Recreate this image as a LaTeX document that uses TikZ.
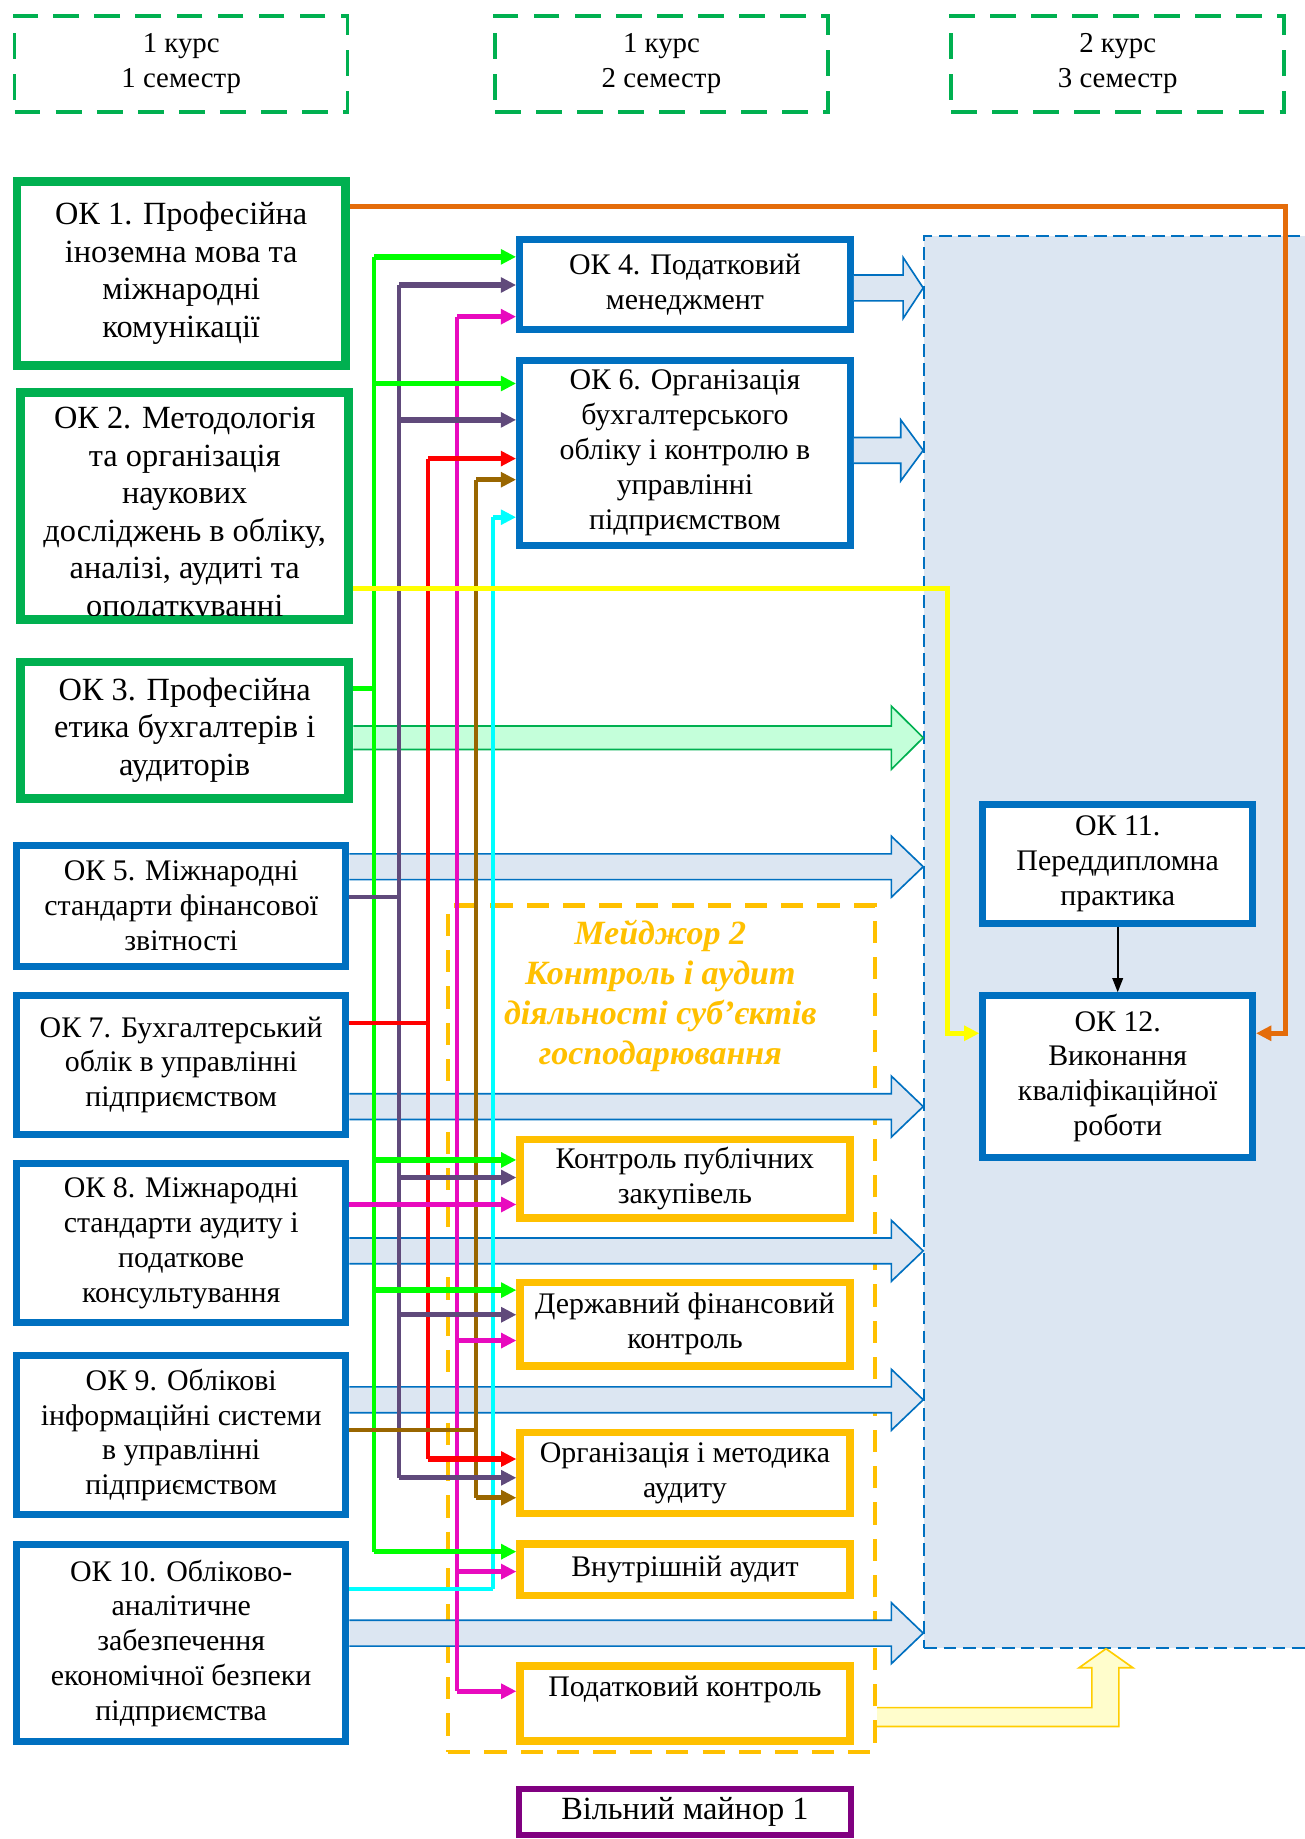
\documentclass[tikz,border=0pt]{standalone}
\usepackage{fontspec}
\setmainfont{Liberation Serif}
\usetikzlibrary{arrows.meta}
\definecolor{okgreen}{HTML}{00B050}
\definecolor{okblue}{HTML}{0070C0}
\definecolor{okgold}{HTML}{FFC000}
\definecolor{okpurple}{HTML}{800080}
\definecolor{zonefill}{HTML}{DCE6F2}
\definecolor{mintfill}{HTML}{C4FFDA}
\definecolor{lime}{HTML}{00FF00}
\definecolor{plum}{HTML}{604A7B}
\definecolor{pinkish}{HTML}{E80ABE}
\definecolor{brownish}{HTML}{996600}
\definecolor{aqua}{HTML}{00FFFF}
\definecolor{tangerine}{HTML}{E46C0A}
\definecolor{paleyellow}{HTML}{FFFDCC}
\definecolor{yellowline}{HTML}{FFFF00}

\begin{document}
\begin{tikzpicture}[x=0.02cm, y=-0.02cm,
    every node/.style={align=center, inner sep=0pt},
    big/.style={font=\fontsize{15.7}{18.2}\selectfont},
    txt/.style={font=\fontsize{14.5}{16.9}\selectfont},
    gbox/.style={draw=okgreen, line width=0.15cm, fill=white, minimum width=5.6cm, big},
    bbox/.style={draw=okblue, line width=0.12cm, fill=white, minimum width=5.62cm, txt},
    obox/.style={draw=okgold, line width=0.13cm, fill=white, minimum width=5.62cm, txt},
    hdr/.style={draw=okgreen, line width=0.06cm, dash pattern=on 0.44cm off 0.26cm,
        minimum width=5.68cm, minimum height=1.64cm, font=\fontsize{14}{17}\selectfont},
    barrow/.style={draw=okblue, fill=zonefill, line width=0.8pt},
    bus/.style={line width=2pt},
    link/.style={line width=2.6pt, -{Triangle[length=0.26cm,width=0.25cm]}}]
    \useasboundingbox (0,0) rectangle (1112,1568);

    \foreach \n/\x/\k/\s in {sem1/154.5/1/1, sem2/564/1/2, sem3/953/2/3}
        \node[hdr] (\n) at (\x,54.5) {\k~курс\\\s~семестр};

    \node[draw=okblue, fill=zonefill, line width=0.035cm, dash pattern=on 0.22cm off 0.11cm,
        minimum width=6.84cm, minimum height=24.08cm] (zone) at (959,803) {};
    \node[draw=okgold, line width=0.08cm, dash pattern=on 0.38cm off 0.24cm,
        minimum width=7.28cm, minimum height=14.44cm] (major) at (564,1133) {};
    \node[text=okgold, font=\fontsize{16.5}{19.3}\selectfont\bfseries\itshape] (majortitle) at (563,849)
        {Мейджор 2\\Контроль і аудит\\діяльності суб’єктів\\господарювання};

    \node[gbox, minimum height=3.14cm] (ok1) at (154.5,233) {ОК 1. Професійна\\іноземна мова та\\міжнародні\\комунікації};
    \node[gbox, minimum height=3.88cm] (ok2) at (157.5,431.5) {};
    \begin{scope}
        \clip (21,338) rectangle (294,525);
        \node[big, anchor=north] (ok2txt) at (157.5,347) {ОК 2. Методологія\\та організація\\наукових\\досліджень в обліку,\\аналізі, аудиті та\\оподаткуванні};
    \end{scope}
    \node[gbox, minimum height=2.32cm] (ok3) at (157.5,622.5) {ОК 3. Професійна\\етика бухгалтерів і\\аудиторів};
    \node[bbox, minimum height=2.06cm] (ok5) at (154.5,772.5) {ОК 5. Міжнародні\\стандарти фінансової\\звітності};
    \node[bbox, minimum height=2.36cm] (ok7) at (154.5,908) {ОК 7. Бухгалтерський\\облік в управлінні\\підприємством};
    \node[bbox, minimum height=2.72cm] (ok8) at (154.5,1060) {ОК 8. Міжнародні\\стандарти аудиту і\\податкове\\консультування};
    \node[bbox, minimum height=2.70cm] (ok9) at (154.5,1223.5) {ОК 9. Облікові\\інформаційні системи\\в управлінні\\підприємством};
    \node[bbox, minimum height=3.36cm] (ok10) at (154.5,1401) {ОК 10. Обліково-\\аналітичне\\забезпечення\\економічної безпеки\\підприємства};
    \node[bbox, minimum width=5.64cm, minimum height=1.54cm] (ok4) at (584,242.5) {ОК 4. Податковий\\менеджмент};
    \node[bbox, minimum width=5.64cm, minimum height=3.16cm] (ok6) at (584,386) {ОК 6. Організація\\бухгалтерського\\обліку і контролю в\\управлінні\\підприємством};
    \node[bbox, minimum width=4.6cm, minimum height=2.02cm] (ok11) at (953,736.5) {ОК 11.\\Переддипломна\\практика};
    \node[bbox, minimum width=4.6cm, minimum height=2.76cm] (ok12) at (953,918) {ОК 12.\\Виконання\\кваліфікаційної\\роботи};

    \node[obox, minimum height=1.34cm] (m1) at (584,1005) {Контроль публічних\\закупівель};
    \node[obox, minimum height=1.42cm] (m2) at (584,1129) {Державний фінансовий\\контроль};
    \node[obox, minimum height=1.38cm] (m3) at (584,1256) {Організація і методика\\аудиту};
    \node[obox, minimum height=0.88cm] (m4) at (584,1338.5) {Внутрішній аудит};
    \node[obox, minimum height=1.28cm] (m5) at (584,1452.5) {Податковий контроль\\\mbox{}};
    \node[draw=okpurple, line width=0.1cm, fill=white, minimum width=5.66cm, minimum height=0.78cm,
        font=\fontsize{15.7}{18.2}\selectfont] (minor) at (584,1545) {Вільний майнор 1};

    \foreach \b/\y/\h in {ok4/245.5/18, ok6/384/20, ok5/739/28, ok7/943.5/28, ok8/1066.5/28, ok9/1193.5/28, ok10/1392.5/28}
        \draw[barrow] (\b.east |- 0,\y-11) -- (788-\h,\y-11) -- (788-\h,\y-26) -- (zone.west |- 0,\y)
            -- (788-\h,\y+26) -- (788-\h,\y+11) -- (\b.east |- 0,\y+11);
    \draw[barrow, draw=okgreen, fill=mintfill] (ok3.east |- 0,619) -- (760,619) -- (760,602) -- (zone.west |- 0,629)
        -- (760,656) -- (760,639) -- (ok3.east |- 0,639);
    \draw[draw=okgold!80!yellow, fill=paleyellow, line width=0.8pt] (major.east |- 0,1456) -- (931,1456) -- (931,1422)
        -- (920,1422) -- (943,0 |- zone.south) -- (966,1422) -- (954,1422) -- (954,1472) -- (major.east |- 0,1472);

    \foreach \c/\x/\s/\sy/\top/\bot in {lime/319/ok3/587/219/1323, plum/340/ok5/764.5/243/1260,
            red/365/ok7/872/391/1244, pinkish/390/ok8/1027/270/1442,
            brownish/406/ok9/1219/409/1277, aqua/420.5/ok10/1355/441/1355} {
        \coordinate (\c-bus) at (\x,0);
        \draw[\c, bus] (\c-bus |- 0,\top) -- (\c-bus |- 0,\bot) (\s.east |- 0,\sy) -- (\c-bus |- 0,\sy);
    }
    \foreach \c/\s/\t/\y in {lime/lime-bus/ok4/219, lime/lime-bus/ok6/327, lime/lime-bus/m1/989,
            lime/lime-bus/m2/1100, lime/lime-bus/m4/1323,
            plum/plum-bus/ok4/243, plum/plum-bus/ok6/358, plum/plum-bus/m1/1004,
            plum/plum-bus/m2/1121, plum/plum-bus/m3/1260,
            red/red-bus/ok6/391, red/red-bus/m3/1244,
            pinkish/pinkish-bus/ok4/270, pinkish/ok8.east/m1/1027, pinkish/pinkish-bus/m2/1143,
            pinkish/pinkish-bus/m4/1340, pinkish/pinkish-bus/m5/1442,
            brownish/brownish-bus/ok6/409, brownish/brownish-bus/m3/1277,
            aqua/aqua-bus/ok6/441}
        \draw[\c, link] (\s |- 0,\y) -- (\t.west |- 0,\y);

    \draw[yellowline, link] (ok2.east |- 0,502) -| (808,881) -- (ok12.west |- 0,881);
    \draw[tangerine, link] (ok1.east |- 0,176) -| (1096,881) -- (ok12.east |- 0,881);
    \draw[line width=0.8pt, -{Triangle[length=0.24cm,width=0.18cm]}] (ok11) -- (ok12);
\end{tikzpicture}
\end{document}
